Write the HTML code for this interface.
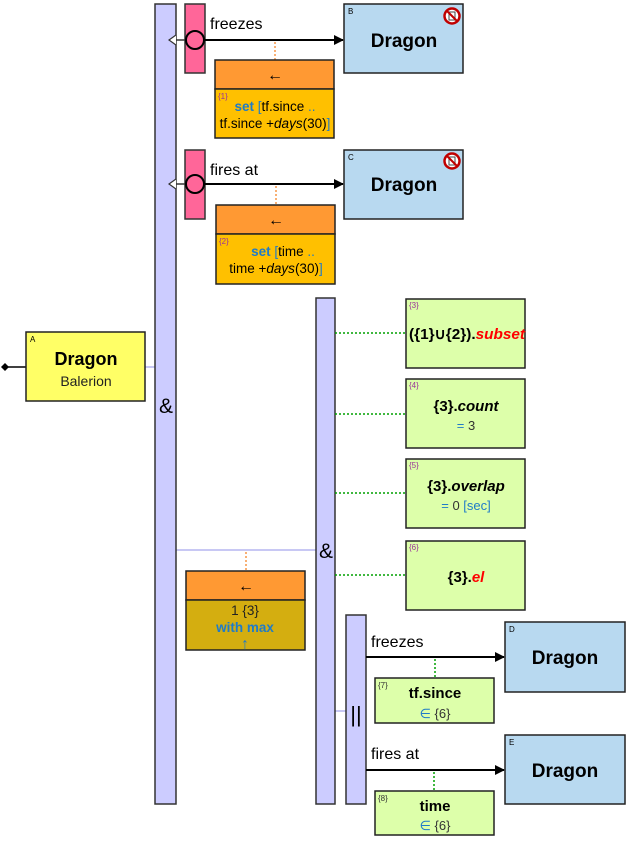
<!DOCTYPE html>
<html><head><meta charset="utf-8"><style>
body{margin:0;background:#fff;}
svg{display:block;font-family:"Liberation Sans",sans-serif;}
</style></head><body>
<svg width="626" height="844" viewBox="0 0 626 844" xmlns="http://www.w3.org/2000/svg">
<defs>
<marker id="ah" markerWidth="10" markerHeight="10" refX="9" refY="5" orient="auto" markerUnits="userSpaceOnUse"><path d="M0,0 L10,5 L0,10 z" fill="#000"/></marker>
</defs>
<line x1="145" y1="367" x2="155" y2="367" stroke="#c8c8f4" stroke-width="2"/>
<line x1="176" y1="550" x2="316" y2="550" stroke="#c8c8f4" stroke-width="2"/>
<line x1="335" y1="711" x2="346" y2="711" stroke="#c8c8f4" stroke-width="2"/>
<!-- A -->
<line x1="8" y1="367" x2="26" y2="367" stroke="#000" stroke-width="1.5"/>
<path d="M1,367 L5,363 L9,367 L5,371 z" fill="#000"/>
<rect x="26" y="332" width="119" height="69" fill="#ffff66" stroke="#222" stroke-width="1.5"/>
<text x="30" y="342" font-size="8">A</text>
<text x="86" y="365" font-size="18" font-weight="bold" text-anchor="middle">Dragon</text>
<text x="86" y="386" font-size="14" text-anchor="middle" fill="#222">Balerion</text>
<!-- big bars -->
<rect x="155" y="4" width="21" height="800" fill="#ccccff" stroke="#333" stroke-width="1.5"/>
<text x="166" y="413" font-size="21" text-anchor="middle">&amp;</text>
<rect x="316" y="298" width="19" height="506" fill="#ccccff" stroke="#333" stroke-width="1.5"/>
<text x="326" y="558" font-size="21" text-anchor="middle">&amp;</text>
<rect x="346" y="615" width="20" height="189" fill="#ccccff" stroke="#333" stroke-width="1.5"/>
<text x="356" y="722" font-size="22" text-anchor="middle">||</text>

<!-- row 1 -->
<rect x="185" y="4" width="20" height="69" fill="#ff6699" stroke="#333" stroke-width="1.5"/>
<line x1="169" y1="40" x2="186" y2="40" stroke="#333" stroke-width="1.5"/>
<path d="M176,35 L169,40 L176,45" fill="#fff" stroke="#333" stroke-width="1.2"/>
<line x1="205" y1="40" x2="343" y2="40" stroke="#000" stroke-width="2" marker-end="url(#ah)"/>
<circle cx="195" cy="40" r="9" fill="#ff6699" stroke="#000" stroke-width="2"/>
<text x="210" y="29" font-size="16">freezes</text>
<line x1="275" y1="42" x2="275" y2="60" stroke="#f79646" stroke-width="1.5" stroke-dasharray="2,2"/>
<rect x="344" y="4" width="119" height="69" fill="#b8d9f0" stroke="#222" stroke-width="1.5"/>
<text x="348" y="14" font-size="8">B</text>
<text x="404" y="47" font-size="19" font-weight="bold" text-anchor="middle">Dragon</text>
<g transform="translate(452,16)"><circle r="7.5" fill="#fff" stroke="#c00000" stroke-width="2.5"/><rect x="-3" y="-4" width="6" height="8" fill="#fff" stroke="#444" stroke-width="1"/><line x1="-5" y1="-5" x2="5" y2="5" stroke="#c00000" stroke-width="2"/></g>
<rect x="215" y="60" width="119" height="29" fill="#ff9933" stroke="#222" stroke-width="1.5"/>
<text x="275" y="80" font-size="16" text-anchor="middle">←</text>
<rect x="215" y="89" width="119" height="49" fill="#ffc000" stroke="#222" stroke-width="1.5"/>
<text x="218" y="99" font-size="8" fill="#993399">{1}</text>
<text x="275" y="111" font-size="13.5" text-anchor="middle"><tspan fill="#1f7bc8" font-weight="bold">set</tspan> <tspan fill="#1f7bc8">[</tspan>tf.since <tspan fill="#1f7bc8">..</tspan></text>
<text x="275" y="128" font-size="13.5" text-anchor="middle">tf.since +<tspan font-style="italic">days</tspan>(30)<tspan fill="#1f7bc8">]</tspan></text>

<!-- row 2 -->
<rect x="185" y="150" width="20" height="69" fill="#ff6699" stroke="#333" stroke-width="1.5"/>
<line x1="169" y1="184" x2="186" y2="184" stroke="#333" stroke-width="1.5"/>
<path d="M176,179 L169,184 L176,189" fill="#fff" stroke="#333" stroke-width="1.2"/>
<line x1="205" y1="184" x2="343" y2="184" stroke="#000" stroke-width="2" marker-end="url(#ah)"/>
<circle cx="195" cy="184" r="9" fill="#ff6699" stroke="#000" stroke-width="2"/>
<text x="210" y="175" font-size="16">fires at</text>
<line x1="276" y1="186" x2="276" y2="205" stroke="#f79646" stroke-width="1.5" stroke-dasharray="2,2"/>
<rect x="344" y="150" width="119" height="69" fill="#b8d9f0" stroke="#222" stroke-width="1.5"/>
<text x="348" y="160" font-size="8">C</text>
<text x="404" y="191" font-size="19" font-weight="bold" text-anchor="middle">Dragon</text>
<g transform="translate(452,161)"><circle r="7.5" fill="#fff" stroke="#c00000" stroke-width="2.5"/><rect x="-3" y="-4" width="6" height="8" fill="#fff" stroke="#444" stroke-width="1"/><line x1="-5" y1="-5" x2="5" y2="5" stroke="#c00000" stroke-width="2"/></g>
<rect x="216" y="205" width="119" height="29" fill="#ff9933" stroke="#222" stroke-width="1.5"/>
<text x="276" y="225" font-size="16" text-anchor="middle">←</text>
<rect x="216" y="234" width="119" height="50" fill="#ffc000" stroke="#222" stroke-width="1.5"/>
<text x="219" y="244" font-size="8" fill="#993399">{2}</text>
<text x="283" y="256" font-size="13.5" text-anchor="middle"><tspan fill="#1f7bc8" font-weight="bold">set</tspan> <tspan fill="#1f7bc8">[</tspan>time <tspan fill="#1f7bc8">..</tspan></text>
<text x="276" y="273" font-size="13.5" text-anchor="middle">time +<tspan font-style="italic">days</tspan>(30)<tspan fill="#1f7bc8">]</tspan></text>

<!-- green boxes -->
<g stroke="#00a000" stroke-width="1.5" stroke-dasharray="2,2">
<line x1="335" y1="333" x2="406" y2="333"/>
<line x1="335" y1="414" x2="406" y2="414"/>
<line x1="335" y1="493" x2="406" y2="493"/>
<line x1="335" y1="575" x2="406" y2="575"/>
<line x1="435" y1="659" x2="435" y2="678"/>
<line x1="434" y1="772" x2="434" y2="791"/>
</g>
<g fill="#ddffaa" stroke="#222" stroke-width="1.5">
<rect x="406" y="299" width="119" height="69"/>
<rect x="406" y="379" width="119" height="69"/>
<rect x="406" y="459" width="119" height="69"/>
<rect x="406" y="541" width="119" height="69"/>
<rect x="375" y="678" width="119" height="45"/>
<rect x="375" y="791" width="119" height="44"/>
</g>
<g font-size="8" fill="#993399">
<text x="409" y="308">{3}</text><text x="409" y="388">{4}</text><text x="409" y="468">{5}</text><text x="409" y="550">{6}</text>
<text x="378" y="688" fill="#333">{7}</text><text x="378" y="801" fill="#333">{8}</text>
</g>
<g font-size="15" font-weight="bold">
<text x="409" y="339" textLength="116" lengthAdjust="spacingAndGlyphs">({1}∪{2}).<tspan fill="#ff0000" font-style="italic">subset</tspan></text>
<text x="466" y="411" text-anchor="middle">{3}.<tspan font-style="italic">count</tspan></text>
<text x="466" y="491" text-anchor="middle">{3}.<tspan font-style="italic">overlap</tspan></text>
<text x="466" y="582" text-anchor="middle">{3}.<tspan fill="#ff0000" font-style="italic">el</tspan></text>
<text x="435" y="698" text-anchor="middle">tf.since</text>
<text x="435" y="811" text-anchor="middle">time</text>
</g>
<g font-size="13" text-anchor="middle" fill="#333">
<text x="466" y="430"><tspan fill="#1f7bc8">=</tspan> 3</text>
<text x="466" y="510"><tspan fill="#1f7bc8">=</tspan> 0 <tspan fill="#1f7bc8">[sec]</tspan></text>
<text x="435" y="718"><tspan fill="#1f7bc8">∈</tspan> {6}</text>
<text x="435" y="830"><tspan fill="#1f7bc8">∈</tspan> {6}</text>
</g>

<!-- orange box 3 -->
<line x1="246" y1="552" x2="246" y2="571" stroke="#f79646" stroke-width="1.5" stroke-dasharray="2,2"/>
<rect x="186" y="571" width="119" height="29" fill="#ff9933" stroke="#222" stroke-width="1.5"/>
<text x="246" y="591" font-size="16" text-anchor="middle">←</text>
<rect x="186" y="600" width="119" height="50" fill="#d4ae10" stroke="#222" stroke-width="1.5"/>
<text x="245" y="615" font-size="13.5" text-anchor="middle" fill="#222">1 {3}</text>
<text x="245" y="632" font-size="13.5" text-anchor="middle" fill="#1f7bc8" font-weight="bold">with max</text>
<text x="245" y="649" font-size="16" text-anchor="middle" fill="#1f7bc8" font-weight="bold">↑</text>

<!-- parallel rows -->
<line x1="366" y1="657" x2="504" y2="657" stroke="#000" stroke-width="2" marker-end="url(#ah)"/>
<text x="371" y="647" font-size="16">freezes</text>
<rect x="505" y="622" width="120" height="70" fill="#b8d9f0" stroke="#222" stroke-width="1.5"/>
<text x="509" y="632" font-size="8">D</text>
<text x="565" y="664" font-size="19" font-weight="bold" text-anchor="middle">Dragon</text>
<line x1="366" y1="770" x2="504" y2="770" stroke="#000" stroke-width="2" marker-end="url(#ah)"/>
<text x="371" y="759" font-size="16">fires at</text>
<rect x="505" y="735" width="120" height="69" fill="#b8d9f0" stroke="#222" stroke-width="1.5"/>
<text x="509" y="745" font-size="8">E</text>
<text x="565" y="777" font-size="19" font-weight="bold" text-anchor="middle">Dragon</text>
</svg>
</body></html>
